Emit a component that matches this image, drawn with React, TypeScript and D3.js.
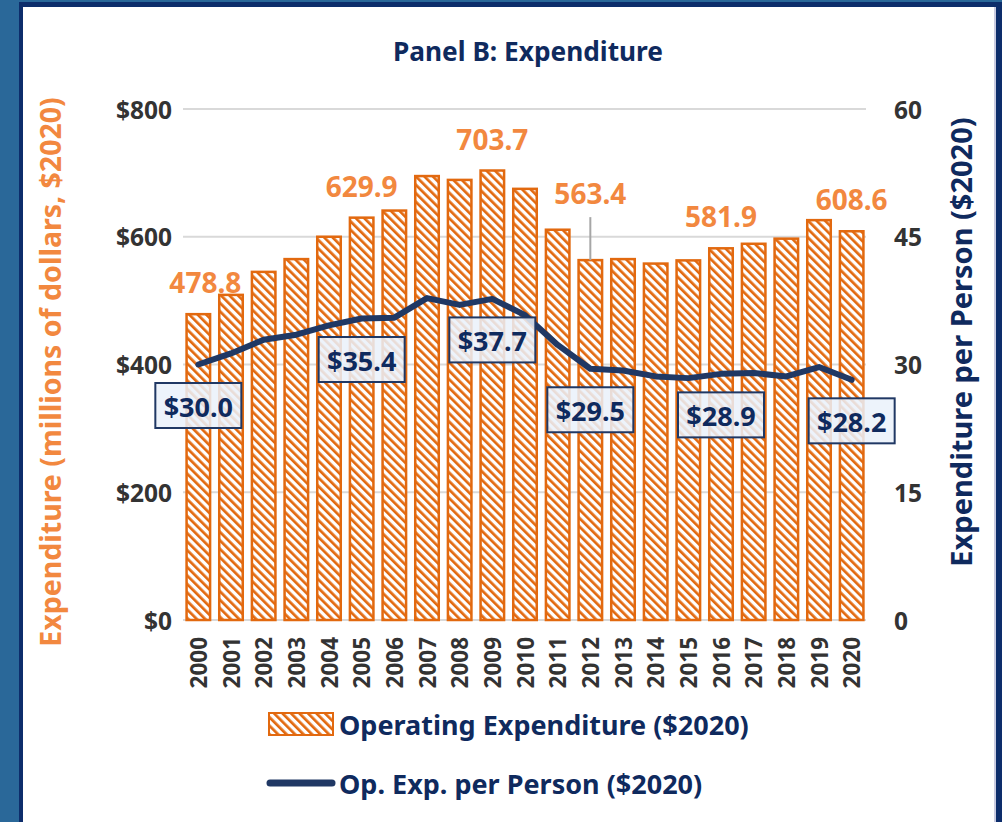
import React from "react";
import * as d3 from "d3";

const years = ["2000","2001","2002","2003","2004","2005","2006","2007","2008","2009","2010","2011","2012","2013","2014","2015","2016","2017","2018","2019","2020"];
const opExpenditure = [478.8,509,545,565,600,629.9,641,695,689,703.7,675,611,563.4,565,558,563,581.9,589,597,626,608.6];
const perPerson = [30.0,31.3,32.9,33.5,34.6,35.4,35.5,37.8,37.0,37.7,35.8,32.3,29.5,29.3,28.6,28.4,28.9,29.0,28.6,29.7,28.2];
const leftTicks = [0,200,400,600,800];
const rightTicks = [0,15,30,45,60];
const barLabelYears = ["2000","2005","2009","2012","2016","2020"];
const lineLabelYears = ["2000","2005","2009","2012","2016","2020"];

const W = 1002, H = 822;
const NAVY = "#0f2a5e";
const LINE = "#203864";
const ORANGE = "#e2690f";
const ORANGE_TXT = "#f2883f";
const GRAY_TXT = "#333333";
const FONT = "'Noto Sans', sans-serif";

export default function App() {
  const x = d3.scaleBand<string>().domain(years).range([182, 868]).paddingInner(0.28).paddingOuter(0.14);
  const y = d3.scaleLinear().domain([0, 800]).range([620, 109]);
  const y2 = d3.scaleLinear().domain([0, 60]).range([620, 109]);
  const cx = (yr: string) => (x(yr) as number) + x.bandwidth() / 2;
  const line = d3.line<number>().x((_, i) => cx(years[i])).y((d) => y2(d));

  const barLabelShift: Record<string, number> = { "2000": 7, "2012": 0 };
  const barLabelLift: Record<string, number> = { "2012": 35 };

  return (
    <svg width={W} height={H} style={{ position: "absolute", left: 0, top: 0 }} fontFamily={FONT}>
      <defs>
        <pattern id="hatch" patternUnits="userSpaceOnUse" width="6" height="6" patternTransform="rotate(-45)">
          <rect x="0" y="0" width="6" height="6" fill="#ffffff" />
          <rect x="0" y="0" width="2.7" height="6" fill={ORANGE} />
        </pattern>
      </defs>
      <rect x={0} y={0} width={W} height={H} fill="#2a6899" />
      <rect x={19} y={2} width={W} height={H} fill="#0d2d6b" />
      <rect x={23} y={7} width={972} height={H} fill="#ffffff" />
      <rect x={994} y={7} width={2} height={H} fill="#c9cbe0" />

      <text x={528} y={61} textAnchor="middle" fontWeight="bold" fontSize={26} fill={NAVY} textLength={270} lengthAdjust="spacingAndGlyphs">
        Panel B: Expenditure
      </text>

      {leftTicks.map((t) => (
        <line key={"g" + t} x1={183} x2={866} y1={y(t)} y2={y(t)} stroke="#d9d9d9" strokeWidth={2} />
      ))}
      {leftTicks.map((t) => (
        <text key={"lt" + t} x={172} y={y(t)} textAnchor="end" dominantBaseline="central" fontWeight="bold" fontSize={24.5} fill={GRAY_TXT}>
          {"$" + t}
        </text>
      ))}
      {rightTicks.map((t) => (
        <text key={"rt" + t} x={894} y={y2(t)} textAnchor="start" dominantBaseline="central" fontWeight="bold" fontSize={24.5} fill={GRAY_TXT}>
          {t}
        </text>
      ))}

      <text transform={`translate(50,372) rotate(-90)`} textAnchor="middle" dominantBaseline="central" fontWeight="bold" fontSize={28.5} fill={ORANGE_TXT}>
        Expenditure (millions of dollars, $2020)
      </text>
      <text transform={`translate(960,342) rotate(-90)`} textAnchor="middle" dominantBaseline="central" fontWeight="bold" fontSize={29} fill={NAVY}>
        Expenditure per Person ($2020)
      </text>

      {opExpenditure.map((v, i) => (
        <rect key={"b" + i} x={x(years[i])} y={y(v)} width={x.bandwidth()} height={y(0) - y(v)} fill="url(#hatch)" stroke={ORANGE} strokeWidth={2.5} />
      ))}

      {years.map((yr) => (
        <text key={"xl" + yr} transform={`translate(${cx(yr)},637) rotate(-90)`} textAnchor="end" dominantBaseline="central" fontWeight="bold" fontSize={22.5} fill={GRAY_TXT}>
          {yr}
        </text>
      ))}

      {barLabelYears.map((yr) => {
        const i = years.indexOf(yr);
        const v = opExpenditure[i];
        const lift = barLabelLift[yr] || 0;
        const ty = y(v) - 21 - lift;
        return (
          <g key={"bl" + yr}>
            {lift > 0 && <line x1={cx(yr)} x2={cx(yr)} y1={y(v)} y2={ty + 13} stroke="#a6a6a6" strokeWidth={2} />}
            <text x={cx(yr) + (barLabelShift[yr] || 0)} y={ty} textAnchor="middle" fontWeight="bold" fontSize={28} fill={ORANGE_TXT}>
              {v.toFixed(1)}
            </text>
          </g>
        );
      })}

      <path d={line(perPerson) || ""} fill="none" stroke={LINE} strokeWidth={6} strokeLinejoin="round" strokeLinecap="round" />

      {lineLabelYears.map((yr) => {
        const i = years.indexOf(yr);
        const v = perPerson[i];
        const by = y2(v) + 41;
        return (
          <g key={"ll" + yr}>
            <rect x={cx(yr) - 43} y={by - 22.5} width={86} height={45} fill="#eaf1fa" fillOpacity={0.85} stroke={LINE} strokeWidth={2} />
            <text x={cx(yr)} y={by + 1} textAnchor="middle" dominantBaseline="central" fontWeight="bold" fontSize={27} fill={NAVY}>
              {"$" + v.toFixed(1)}
            </text>
          </g>
        );
      })}

      <rect x={269} y={713} width={64} height={22} fill="url(#hatch)" stroke={ORANGE} strokeWidth={2} />
      <text x={339} y={724} dominantBaseline="central" fontWeight="bold" fontSize={27} fill={NAVY}>
        Operating Expenditure ($2020)
      </text>
      <line x1={270} x2={332} y1={783} y2={783} stroke={LINE} strokeWidth={7} strokeLinecap="round" />
      <text x={339} y={783} dominantBaseline="central" fontWeight="bold" fontSize={27} fill={NAVY}>
        Op. Exp. per Person ($2020)
      </text>
    </svg>
  );
}
